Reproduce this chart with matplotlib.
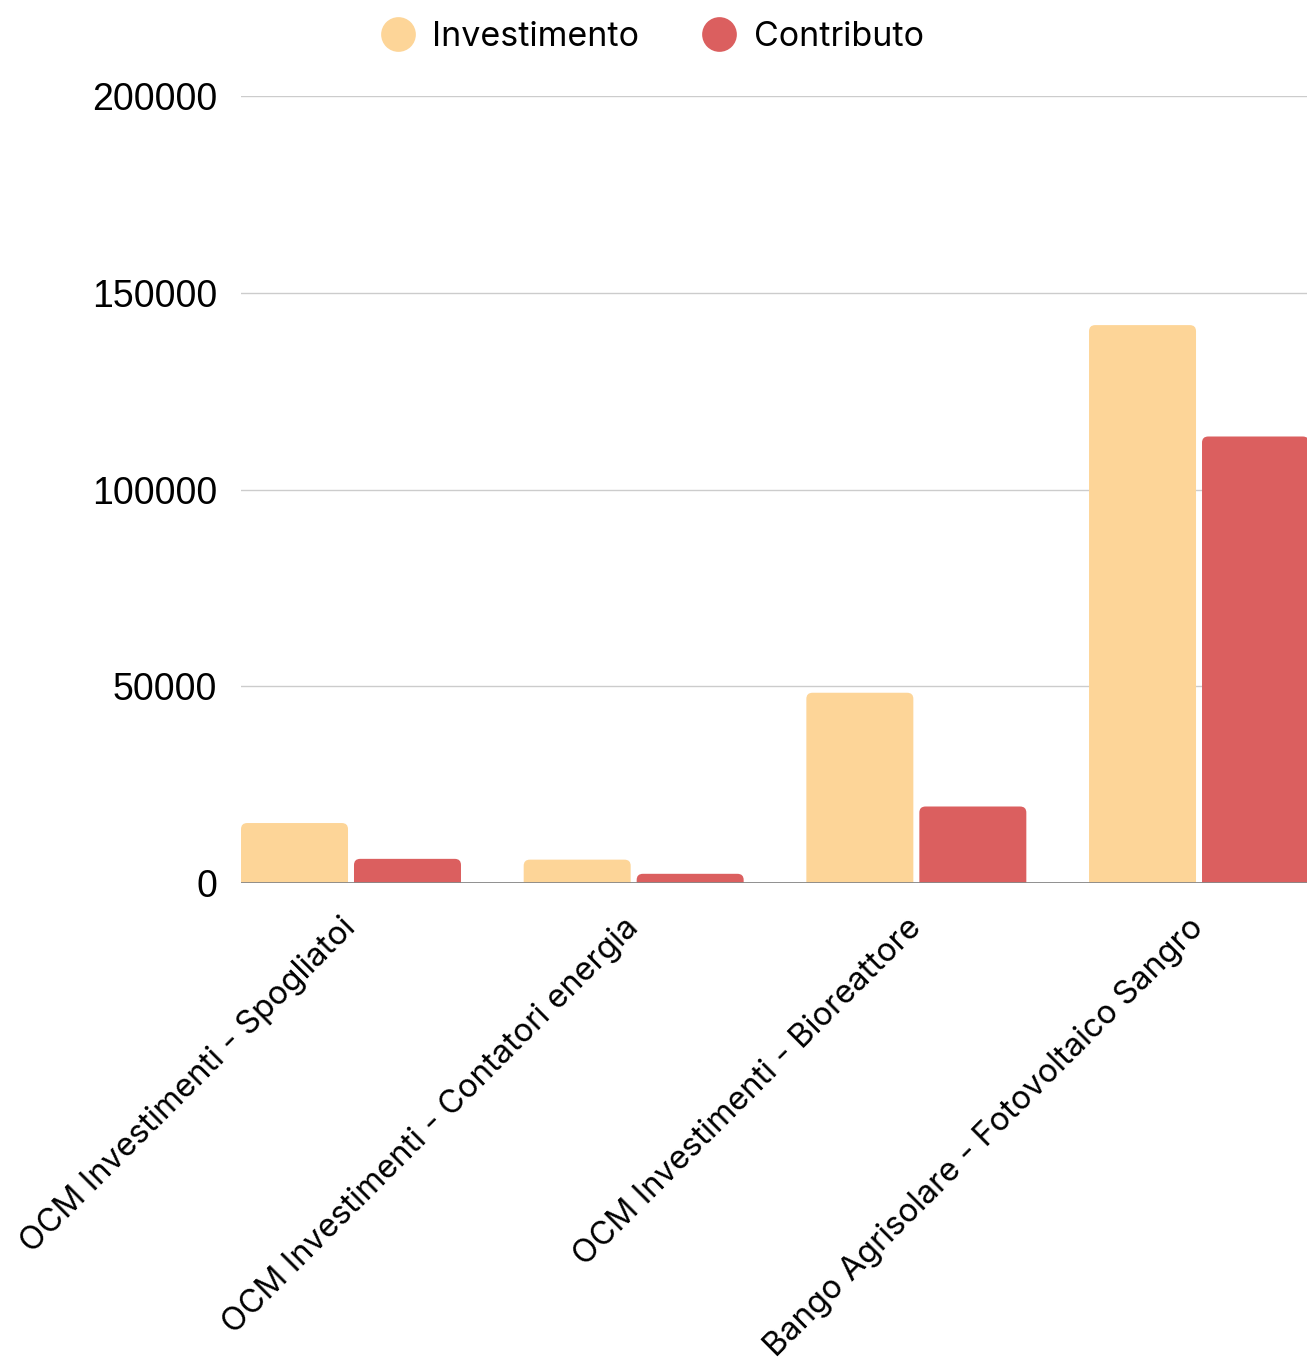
"""Grouped bar chart: Investimento vs Contributo per progetto."""

import matplotlib

matplotlib.use("Agg")
import matplotlib.pyplot as plt  # noqa: E402
import numpy as np  # noqa: E402
from matplotlib.lines import Line2D  # noqa: E402
from matplotlib.patches import FancyBboxPatch  # noqa: E402

categories = [
    "OCM Investimenti - Spogliatoi",
    "OCM Investimenti - Contatori energia",
    "OCM Investimenti - Bioreattore",
    "Bango Agrisolare - Fotovoltaico Sangro",
]
investimento = [15300, 6000, 48400, 141800]
contributo = [6200, 2400, 19500, 113500]
series_names = ["Investimento", "Contributo"]
colors = ["#fdd598", "#db5f5f"]
yticks = [0, 50000, 100000, 150000, 200000]

label_font = ["Inter", "DejaVu Sans"]
tick_font = ["Liberation Sans", "DejaVu Sans"]

fig = plt.figure(figsize=(13.07, 13.62), dpi=100)
ax = fig.add_axes([0.1844, 0.3515, 0.8156, 0.578])

x = np.arange(len(categories))
width = 0.3785
gap = 0.0212
offset = (width + gap) / 2

bars_inv = ax.bar(x - offset, investimento, width, color=colors[0], zorder=2)
bars_con = ax.bar(x + offset, contributo, width, color=colors[1], zorder=2)

ax.set_xlim(-width - gap / 2, len(categories) - 1 + 0.382)
ax.set_ylim(0, 200000)

# swap plain bars for ones with rounded top corners
rx = 0.022
ry = 1550
for bar in list(bars_inv) + list(bars_con):
    bx, bw, bh = bar.get_x(), bar.get_width(), bar.get_height()
    patch = FancyBboxPatch(
        (bx, -ry), bw, bh + ry,
        boxstyle=f"round,pad=0,rounding_size={rx}",
        mutation_aspect=ry / rx,
        facecolor=bar.get_facecolor(), edgecolor="none", zorder=2,
    )
    ax.add_patch(patch)
    bar.set_visible(False)

ax.set_yticks(yticks)
ax.set_yticklabels([str(v) for v in yticks], family=tick_font, fontsize=27)
ax.grid(axis="y", color="#cccccc", linewidth=1, zorder=0)
ax.axhline(0, color="#888888", linewidth=1.3, zorder=3)
ax.tick_params(axis="y", length=0, pad=17)
ax.tick_params(axis="x", length=0, pad=29)
ax.set_xticks(x)
ax.set_xticklabels(categories, family=label_font, fontsize=23.5, rotation=45,
                   ha="right", va="center", rotation_mode="anchor")
for s in ax.spines.values():
    s.set_visible(False)

handles = [
    Line2D([], [], marker="o", linestyle="none", markersize=25,
           markerfacecolor=c, markeredgecolor="none")
    for c in colors
]
fig.legend(handles, series_names, loc="upper center", bbox_to_anchor=(0.4925, 1.007),
           ncol=2, frameon=False, handletextpad=0.02, columnspacing=1.35,
           prop={"family": label_font, "size": 24.5})

fig.savefig("out.png", dpi=100)
